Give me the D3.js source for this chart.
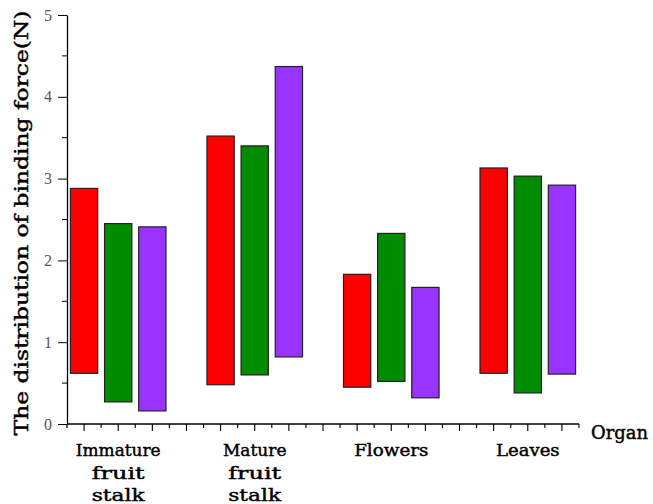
<!DOCTYPE html>
<html>
<head>
<meta charset="utf-8">
<script src="https://cdn.jsdelivr.net/npm/d3@7"></script>
<style>
  html, body { margin: 0; padding: 0; background: #fff; }
  svg { display: block; }
</style>
</head>
<body>
<svg id="chart" width="653" height="504"></svg>
<script>
// Organ categories and the range (low–high) of binding force for three samples
const categories = ["Immature fruit stalk", "Mature fruit stalk", "Flowers", "Leaves"];
const seriesColors = ["#ff0000", "#008c00", "#9933ff"];
const lowA  = [0.62, 0.48, 0.45, 0.62];
const highA = [2.88, 3.52, 1.83, 3.13];
const lowB  = [0.27, 0.60, 0.52, 0.38];
const highB = [2.45, 3.40, 2.33, 3.03];
const lowC  = [0.16, 0.82, 0.32, 0.61];
const highC = [2.41, 4.37, 1.67, 2.92];
const yTicks = [0, 1, 2, 3, 4, 5];

const lows = [lowA, lowB, lowC];
const highs = [highA, highB, highC];

const svg = d3.select("#chart");
const margin = { left: 67, right: 74, top: 15, bottom: 80 };
const W = 653, H = 504;

// Organ axis runs over 30 slots: each organ spans 8 slots, bars 2 slots apart
const x = d3.scaleLinear().domain([0, 30]).range([margin.left, W - margin.right]);
const y = d3.scaleLinear().domain([0, 5]).range([H - margin.bottom, margin.top]);

const bars = [];
categories.forEach((c, i) => {
  for (let s = 0; s < 3; s++) {
    bars.push({ pos: 1 + 8 * i + 2 * s, low: lows[s][i], high: highs[s][i], color: seriesColors[s] });
  }
});
const barW = x(1.6) - x(0);

svg.append("g").selectAll("rect").data(bars).join("rect")
  .attr("x", d => x(d.pos) - barW / 2)
  .attr("width", barW)
  .attr("y", d => y(d.high))
  .attr("height", d => y(d.low) - y(d.high))
  .attr("fill", d => d.color)
  .attr("stroke", "#222")
  .attr("stroke-width", 1.2);

// Y axis with integer majors and half-step minors
const yAxis = svg.append("g").attr("transform", `translate(${margin.left},0)`);
yAxis.call(d3.axisLeft(y).tickValues(yTicks).tickSize(9).tickSizeOuter(0).tickPadding(6).tickFormat(d3.format("d")));
yAxis.append("g").selectAll("line").data([0.5, 1.5, 2.5, 3.5, 4.5]).join("line")
  .attr("x1", -5).attr("x2", 0)
  .attr("y1", d => y(d)).attr("y2", d => y(d))
  .attr("stroke", "#000");
yAxis.select(".domain").attr("stroke", "#000").attr("stroke-width", 1.3);
yAxis.selectAll(".tick line").attr("stroke", "#000");
yAxis.selectAll(".tick text")
  .style("font-family", "'Liberation Serif', 'DejaVu Serif', serif")
  .style("font-size", "16px")
  .attr("fill", "#555");
yAxis.append("line").attr("x1", 0).attr("x2", 0)
  .attr("y1", y(0)).attr("y2", y(0) + 4).attr("stroke", "#000").attr("stroke-width", 1.3);

// X axis: majors at odd slots (bar centres), minors at even slots
const xAxis = svg.append("g").attr("transform", `translate(0,${y(0)})`);
xAxis.append("line").attr("x1", x(0)).attr("x2", x(30))
  .attr("stroke", "#000").attr("stroke-width", 1.3);
xAxis.selectAll("line.tk").data(d3.range(1, 31)).join("line")
  .attr("class", "tk")
  .attr("x1", d => x(d)).attr("x2", d => x(d))
  .attr("y1", 0).attr("y2", d => d % 2 === 1 ? 7 : 4)
  .attr("stroke", "#000").attr("stroke-width", 1.1);

// Fixed-pitch serif look: each string stretched to a set advance per character
const labelFont = "'DejaVu Serif', 'Liberation Serif', serif";
function pitchText(sel, str, size, pitch) {
  return sel.attr("font-family", labelFont)
    .attr("font-size", size)
    .attr("fill", "#000")
    .attr("stroke", "#000")
    .attr("stroke-width", 0.45)
    .attr("textLength", str.length * pitch)
    .attr("lengthAdjust", "spacingAndGlyphs")
    .text(str);
}

// Organ labels, one word per line where needed
categories.forEach((c, i) => {
  c.split(" ").forEach((w, k) => {
    pitchText(svg.append("text")
      .attr("x", x(3 + 8 * i))
      .attr("y", 456 + 22.5 * k)
      .attr("text-anchor", "middle"), w, 17.5, 10.6);
  });
});

pitchText(svg.append("text").attr("x", 591).attr("y", 439), "Organ", 19, 11.4);

pitchText(svg.append("text")
  .attr("transform", `translate(28,${(10 + 436) / 2}) rotate(-90)`)
  .attr("text-anchor", "middle"), "The distribution of binding force(N)", 19, 11.8);
</script>
</body>
</html>
